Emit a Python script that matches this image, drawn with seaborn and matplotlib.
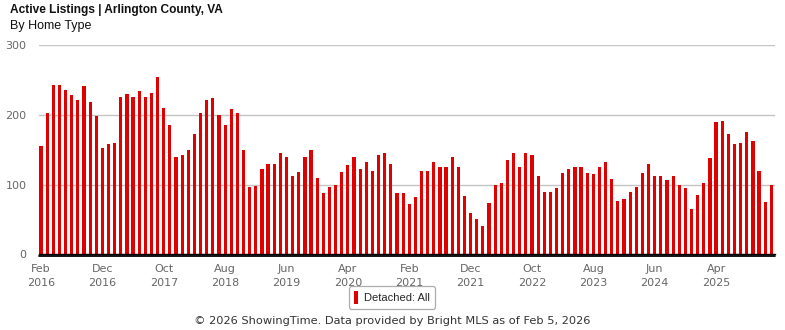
import matplotlib
matplotlib.use("Agg")
import matplotlib.pyplot as plt
import seaborn as sns
import pandas as pd

# ---- data ----
months = pd.date_range("2016-02-01", periods=120, freq="MS").strftime("%b %Y").tolist()
listings = [
    155, 203, 243, 243, 236, 229, 222, 242, 219, 198,
    153, 159, 160, 226, 230, 226, 235, 226, 232, 255,
    210, 186, 139, 143, 150, 173, 203, 222, 225, 200,
    186, 208, 203, 150, 96, 98, 122, 130, 129, 146,
    139, 113, 118, 140, 150, 110, 88, 96, 100, 118,
    128, 139, 123, 133, 119, 143, 146, 130, 88, 88,
    72, 82, 120, 120, 133, 126, 126, 139, 126, 83,
    60, 50, 40, 73, 99, 102, 136, 146, 125, 146,
    143, 113, 90, 90, 95, 116, 123, 126, 126, 116,
    115, 125, 133, 108, 76, 80, 90, 96, 116, 129,
    112, 112, 106, 113, 100, 95, 65, 85, 103, 138,
    190, 192, 173, 159, 160, 175, 163, 119, 75, 100,
]
tick_positions = list(range(0, 120, 10))
tick_labels = ["Feb\n2016", "Dec\n2016", "Oct\n2017", "Aug\n2018", "Jun\n2019", "Apr\n2020",
               "Feb\n2021", "Dec\n2021", "Oct\n2022", "Aug\n2023", "Jun\n2024", "Apr\n2025"]
y_ticks = [0, 100, 200, 300]
series_name = "Detached: All"
title = "Active Listings | Arlington County, VA"
subtitle = "By Home Type"
footer = "© 2026 ShowingTime. Data provided by Bright MLS as of Feb 5, 2026"

df = pd.DataFrame({"month": months, "value": listings})

sns.set_theme(style="white")
plt.rcParams["font.family"] = ["DejaVu Sans"]

fig = plt.figure(figsize=(7.85, 3.30), dpi=100)
ax = fig.add_axes([39 / 785, 1 - 254.3 / 330, (775 - 39) / 785, (254.3 - 45.3) / 330])
ax.set_axisbelow(True)

sns.barplot(data=df, x="month", y="value", order=months, color="#E00000",
            width=0.52, saturation=1, ax=ax, label=series_name,
            edgecolor="none", linewidth=0)

ax.set_ylim(0, 300)
ax.set_xlim(-0.33, 119.6)
ax.set_yticks(y_ticks)
ax.set_yticklabels([str(v) for v in y_ticks])
ax.set_xticks(tick_positions)
ax.set_xticklabels(tick_labels)
ax.tick_params(axis="both", length=0, labelsize=8, labelcolor="#666666")
ax.tick_params(axis="y", pad=9)
ax.tick_params(axis="x", pad=7)
for lab in ax.get_xticklabels():
    lab.set_linespacing(1.45)
ax.set_xlabel("")
ax.set_ylabel("")
ax.grid(axis="y", color="#c4c4c4", linewidth=1)
ax.grid(axis="x", visible=False)
for s in ["top", "right", "left"]:
    ax.spines[s].set_visible(False)
ax.spines["bottom"].set_color("black")
ax.spines["bottom"].set_linewidth(1.0)
ax.spines["bottom"].set_zorder(4)
# second (double) baseline just below the axis
ax.axhline(-2.7, color="black", linewidth=1.3, clip_on=False, zorder=4)

if ax.get_legend() is not None:
    ax.get_legend().remove()
handles, labels = ax.get_legend_handles_labels()
leg = fig.legend(handles[:1], labels[:1], loc="center", bbox_to_anchor=(0.4994, 0.0985),
                 fancybox=True, edgecolor="#999999", frameon=True, handlelength=0.35,
                 handleheight=1.3, handletextpad=0.6, borderpad=0.45,
                 prop={"family": "Liberation Sans", "size": 8})
leg.get_frame().set_linewidth(0.9)

fig.text(10 / 785, 1 - 10 / 330, title, fontsize=8.6, fontweight="bold",
         family="Liberation Sans", va="center", ha="left", color="#111111")
fig.text(10 / 785, 1 - 25.5 / 330, subtitle, fontsize=9,
         family="Liberation Sans", va="center", ha="left", color="#111111")
fig.text(0.5, 1 - 321 / 330, footer, fontsize=8.2, ha="center", va="center", color="#333333")

fig.savefig("out.png", dpi=100)
